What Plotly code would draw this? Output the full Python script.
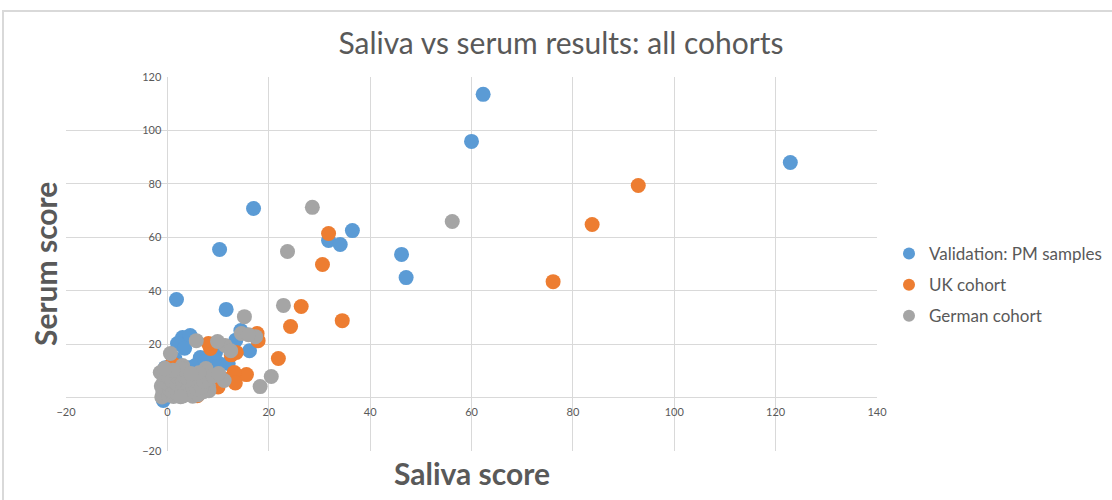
import plotly.graph_objects as go

# ---- data ----
pm_x = [62.3, 60.0, 122.9, 17.0, 10.3, 31.8, 34.1, 36.5, 46.2, 47.1, 1.8, 11.6,
        14.5, 13.5, 3.0, 4.5, 2.0, 6.5, 8.9, 9.9, 9.5, -0.4, 4.1, 1.0, 5.5, 7.5,
        -0.8, 0.8, 2.4, 4.0, 6.2, 8.0, 12.0, 16.2, 3.4, 1.5]
pm_y = [113.5, 95.9, 88.0, 70.8, 55.4, 58.8, 57.3, 62.5, 53.6, 44.9, 36.7, 33.0,
        25.1, 21.5, 22.5, 23.2, 20.2, 15.0, 15.7, 13.1, 16.9, 11.2, 11.2, 12.7, 12.0, 13.5,
        -1.1, 1.5, 5.0, 8.0, 7.0, 10.0, 12.8, 17.5, 18.5, 14.5]

uk_x = [92.9, 83.8, 76.1, 31.8, 30.6, 26.4, 34.5, 24.3, 21.9, 17.9, 17.7, 15.6,
        13.2, 13.4, 13.6, 12.6, 9.4, 8.5, 5.5, 6.5, 1.2, 2.0, 3.5, 0.5, 4.5,
        7.0, 11.0, 10.0, 2.1, 3.1, 8.9, 5.9, 8.1, 1.0]
uk_y = [79.4, 64.8, 43.4, 61.4, 49.8, 34.1, 28.8, 26.6, 14.6, 21.3, 24.0, 8.6,
        9.4, 5.5, 16.9, 16.0, 5.5, 18.4, 1.5, 3.0, 12.4, 10.0, 6.0, 3.0, 4.5,
        9.0, 7.0, 4.0, 1.0, 2.5, 5.2, 0.7, 20.2, 12.7]

de_x = [56.2, 28.6, 23.7, 22.9, 15.2, 20.5, 18.3, 17.4, 14.6, 11.4, 9.9, 8.1,
        5.7, 0.6, -1.4, 11.2, 8.2, 7.6, 3.0, 12.5, 16.0,
        -1.1, -0.9, -1.2, -0.7, 0.2, 0.4, 0.1, 0.3, 1.2, 1.0, 1.4, 0.9, 1.3,
        2.1, 2.3, 1.9, 2.2, 2.0, 3.1, 2.9, 3.3, 3.0, 3.2, 4.1, 3.9, 4.2, 4.0,
        5.1, 4.9, 5.2, 5.0, 6.1, 5.9, 6.3, 7.1, 6.8, 7.2, 8.1, 9.0, 10.1, 6.2,
        3.1, 1.1, -0.5, 2.6, 4.6]
de_y = [65.9, 71.2, 54.7, 34.5, 30.3, 7.9, 4.1, 22.8, 24.0, 19.5, 21.0, 4.1,
        21.3, 16.5, 9.4, 6.4, 2.6, 10.9, 12.0, 17.5, 23.5,
        0.2, 2.1, 4.3, 6.2, 1.0, 3.2, 5.1, 7.3, 0.4, 2.2, 4.1, 6.3, 8.4,
        1.1, 3.0, 5.2, 7.1, 9.2, 0.6, 2.4, 4.3, 6.1, 8.0, 1.2, 3.1, 5.0, 7.2,
        2.0, 4.2, 6.0, 0.5, 1.1, 3.2, 5.1, 2.2, 4.0, 6.1, 7.0, 8.1, 9.0, 9.3,
        10.6, 10.2, 11.0, 0.3, 9.0]

series = [
    ("Validation: PM samples", pm_x, pm_y, "#5B9BD5"),
    ("UK cohort", uk_x, uk_y, "#ED7D31"),
    ("German cohort", de_x, de_y, "#A5A5A5"),
]

x_range = [-20, 140]
y_range = [-20, 120]
x_ticks = [-20, 0, 20, 40, 60, 80, 100, 120, 140]
y_ticks = [-20, 0, 20, 40, 60, 80, 100, 120]

FONT = "Lato"
GREY_TXT = "#595959"

fig = go.Figure()
for i, (name, xs, ys, col) in enumerate(series):
    fig.add_trace(go.Scatter(
        x=xs, y=ys, mode="markers", name=name, legendgroup=str(i),
        marker=dict(size=15, color=col, line=dict(width=0)),
        cliponaxis=False,
    ))

W, H = 1112, 500
ml, mr, mt, mb = 66, 1112 - 877, 77, 500 - 451
pw, ph = W - ml - mr, H - mt - mb

xpos0 = (0 - y_range[0]) / (y_range[1] - y_range[0])
ypos0 = (0 - x_range[0]) / (x_range[1] - x_range[0])

fig.update_layout(
    template="none",
    width=W, height=H,
    margin=dict(l=ml, r=mr, t=mt, b=mb, pad=0, autoexpand=False),
    paper_bgcolor="white", plot_bgcolor="white",
    font=dict(family=FONT, color=GREY_TXT),
    title=dict(text="Saliva vs serum results: all cohorts",
               font=dict(size=30, color=GREY_TXT, family=FONT),
               x=561 / W, xanchor="center", xref="container",
               y=1 - 43 / H, yanchor="middle", yref="container"),
    xaxis=dict(range=x_range, tickvals=x_ticks, showgrid=True, gridcolor="#D9D9D9",
               gridwidth=1, automargin=False,
               zeroline=True, zerolinecolor="#D9D9D9", zerolinewidth=1,
               anchor="free", position=xpos0, showline=False, ticks="",
               tickfont=dict(size=11, color=GREY_TXT, family=FONT), layer="below traces",
               ticklabelstandoff=6),
    yaxis=dict(range=y_range, tickvals=y_ticks, showgrid=True, gridcolor="#D9D9D9",
               gridwidth=1, automargin=False,
               zeroline=True, zerolinecolor="#D9D9D9", zerolinewidth=1,
               anchor="free", position=ypos0, showline=False, ticks="",
               tickfont=dict(size=11, color=GREY_TXT, family=FONT), layer="below traces",
               ticklabelstandoff=6),
    legend=dict(x=(889 - ml) / pw, xanchor="left", y=(H - mb - 236) / ph, yanchor="top",
                font=dict(size=17, color=GREY_TXT, family=FONT),
                tracegroupgap=6, bgcolor="rgba(0,0,0,0)", itemsizing="constant"),
    showlegend=True,
)

# axis titles
fig.add_annotation(text="<b>Saliva score</b>", xref="paper", yref="paper",
                   x=(472 - ml) / pw, y=(H - mb - 473) / ph, showarrow=False,
                   font=dict(size=30, color=GREY_TXT, family=FONT),
                   xanchor="center", yanchor="middle")
fig.add_annotation(text="<b>Serum score</b>", xref="paper", yref="paper",
                   x=(45 - ml) / pw, y=(H - mb - 264) / ph, showarrow=False,
                   textangle=-90,
                   font=dict(size=30, color=GREY_TXT, family=FONT),
                   xanchor="center", yanchor="middle")

# chart-area border (top and left edges visible in the reference)
fig.add_shape(type="rect", xref="paper", yref="paper",
              x0=(3 - ml) / pw, x1=(1130 - ml) / pw,
              y0=(H - mb - 520) / ph, y1=(H - mb - 11) / ph,
              line=dict(color="#D9D9D9", width=2), fillcolor="rgba(0,0,0,0)",
              layer="below")

fig.write_html("out.html",
               config={"displayModeBar": False},
               post_script="document.body.style.margin='0';document.body.style.overflow='hidden';")
